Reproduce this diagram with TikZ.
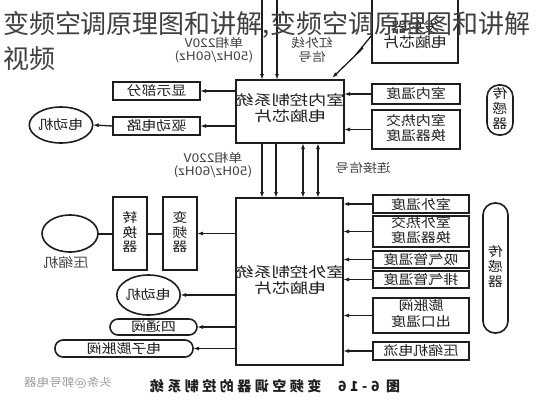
\documentclass[tikz,border=0pt]{standalone}
\usepackage{fontspec}
\usepackage{graphicx}
\newfontfamily\cjk{Noto Sans CJK SC}
\newfontfamily\cjkcap[LetterSpace=25]{Noto Sans CJK SC}
\usetikzlibrary{arrows.meta,shapes.geometric}
\definecolor{ink}{HTML}{1E1E1E}
\newcommand{\mir}[1]{\scalebox{-1.15}[1]{#1}}
\newcommand{\mtwo}[2]{\scalebox{-1.15}[1]{\begin{tabular}{@{}c@{}}#1\\#2\end{tabular}}}
\newcommand{\mchip}[2]{\scalebox{-1.3}[1]{\begin{tabular}{@{}c@{}}#1\\#2\end{tabular}}}
\newcommand{\mthree}[3]{\scalebox{-1.15}[1]{\begin{tabular}{@{}c@{}}#1\\#2\\#3\end{tabular}}}
\begin{document}
\begin{tikzpicture}[x=1pt,y=-1pt,
  every node/.style={inner sep=0pt, outer sep=0pt},
  ln/.style={line width=1.3pt, draw=ink},
  arr/.style={ln, -{Latex[length=6pt,width=4pt]}},
  darr/.style={ln, {Latex[length=6pt,width=4pt]}-{Latex[length=6pt,width=4pt]}},
  box/.style={draw=ink, line width=1.6pt, text=ink, font=\cjk\fontsize{13}{15}\selectfont},
  pill/.style={box, rounded corners=8pt},
  oval/.style={box, ellipse},
  vbox/.style={box, font=\cjk\fontsize{13}{13.5}\selectfont},
  chip/.style={text=ink, font=\cjk\fontsize{14}{13}\selectfont},
  lbl/.style={text=ink!85, font=\cjk\fontsize{12}{12.5}\selectfont},
]
\useasboundingbox (0,0) rectangle (536,400);
\fill[white] (0,0) rectangle (536,400);

% remote controller box (top, cut off)
\node[box, minimum width=86pt, minimum height=68pt] (remote) at (415,29) {};
\node[chip] (remotet) at (415,36) {\mtwo{发射器}{电脑芯片}};

% indoor chip
\node[box, minimum width=108pt, minimum height=63pt] (ind) at (290,111.5) {};
\node[chip] (indt) at (290,109.5) {\mchip{室内控制系统}{电脑芯片}};

% outdoor chip
\node[box, minimum width=107pt, minimum height=167pt] (outd) at (289.5,281.5) {};
\node[chip] (outdt) at (290,281.5) {\mchip{室外控制系统}{电脑芯片}};

% supply and IR lines at top
\coordinate (p1) at (262,0);
\coordinate (p2) at (277,0);
\draw[arr] (p1) -- (p1 |- ind.north);
\draw[arr] (p2) -- (p2 |- ind.north);
\node[lbl] (sup1) at (214,51) {\mtwo{单相220V}{(50Hz/60Hz)}};
\node[lbl] (ir) at (312,51) {\mtwo{红外线}{信号}};
\coordinate (z1) at (372,35);
\coordinate (z2) at (358,52);
\coordinate (z3) at (363,48);
\draw[arr] (z1) -- (z2) -- (z3) -- (332,78);

% indoor -> outdoor
\draw[arr] ([xshift=-28pt]ind.south) -- ([xshift=-28pt]ind.south |- outd.north);
\draw[arr] ([xshift=-14pt]ind.south) -- ([xshift=-14pt]ind.south |- outd.north);
\draw[darr] ([xshift=13pt]ind.south) -- ([xshift=13pt]ind.south |- outd.north);
\draw[darr] ([xshift=28pt]ind.south) -- ([xshift=28pt]ind.south |- outd.north);
\node[lbl] (sup2) at (213,166) {\mtwo{单相220V}{(50Hz/60Hz)}};
\node[lbl] (link) at (363,168) {\mir{连接信号}};

% indoor left
\node[box, minimum width=87pt, minimum height=18pt] (disp) at (156.5,91) {\mir{显示部分}};
\node[box, minimum width=87pt, minimum height=18pt] (drv) at (156.5,126) {\mir{驱动电路}};
\node[oval, minimum width=58pt, minimum height=36pt] (m1) at (61,125) {\mir{电动机}};
\draw[arr] (ind.west |- disp.east) -- (disp.east);
\draw[arr] (ind.west |- drv.east) -- (drv.east);
\draw[arr] (drv.west) -- (m1.east);

% indoor right sensors
\node[box, minimum width=88pt, minimum height=20pt] (ti) at (416,94) {\mir{室内温度}};
\node[box, minimum width=88pt, minimum height=39pt] (tix) at (416,129.5) {\mtwo{室内热交}{换器温度}};
\draw[arr] (ti.west) -- (ind.east |- ti.west);
\draw[arr] (tix.west) -- (ind.east |- tix.west);
\node[vbox, rounded corners=12pt, minimum width=26pt, minimum height=50pt] (s1) at (500,110) {\mthree{传}{感}{器}};

% outdoor right sensors
\node[box, minimum width=96pt, minimum height=18pt] (to) at (421,204) {\mir{室外温度}};
\node[box, minimum width=96pt, minimum height=31pt] (tox) at (421,231.5) {\mtwo{室外热交}{换器温度}};
\node[box, minimum width=96pt, minimum height=17pt] (ts) at (421,259.5) {\mir{吸气管温度}};
\node[box, minimum width=96pt, minimum height=17pt] (td) at (421,279.5) {\mir{排气管温度}};
\node[box, minimum width=96pt, minimum height=35pt] (tev) at (421,315.5) {\mtwo{膨胀阀}{出口温度}};
\node[box, minimum width=96pt, minimum height=18pt] (tc) at (421,351) {\mir{压缩机电流}};
\foreach \n in {to,tox,ts,td,tev,tc}{
  \draw[arr] (\n.west) -- (outd.east |- \n.west);
}
\node[vbox, rounded corners=12pt, minimum width=25pt, minimum height=130pt] (s2) at (495.5,268) {\mthree{传}{感}{器}};

% outdoor left
\node[vbox, minimum width=34pt, minimum height=73pt] (inv) at (180,233.5) {\mthree{变}{频}{器}};
\node[vbox, minimum width=34pt, minimum height=73pt] (conv) at (130,233.5) {\mthree{转}{换}{器}};
\node[oval, minimum width=56pt, minimum height=37pt] (comp) at (70,233.5) {};
\node[lbl, font=\cjk\fontsize{13}{14}\selectfont] (compt) at (66,263) {\mir{压缩机}};
\draw[arr] (outd.west |- inv.east) -- (inv.east);
\draw[ln, line width=2pt] (inv.west) -- (conv.east);
\draw[ln, line width=2pt] (conv.west) -- (comp.east);
\node[oval, minimum width=57pt, minimum height=40pt] (m2) at (148.5,295) {\mir{电动机}};
\node[pill, minimum width=87pt, minimum height=16pt] (fv) at (153.5,327) {\mir{四通阀}};
\node[pill, minimum width=138pt, minimum height=17pt] (ev) at (124,348.5) {\mir{电子膨胀阀}};
\draw[arr] (outd.west |- m2.east) -- (m2.east);
\draw[arr] (outd.west |- fv.east) -- (fv.east);
\draw[arr] (outd.west |- ev.east) -- (ev.east);

% caption and watermark
\node[text=ink, font=\cjkcap\bfseries\fontsize{14}{16}\selectfont] (cap) at (275,386) {\scalebox{-1}[1]{图 6-16\hspace{1.2em}变频空调器的控制系统}};
\node[text=black!40, font=\cjk\fontsize{11}{12}\selectfont] (wm) at (68,383) {\mir{头条@郭号电器}};

% overlay title
\node[anchor=base west, text=black!75, font=\cjk\fontsize{26}{30}\selectfont] (t1) at (3,33) {变频空调原理图和讲解,变频空调原理图和讲解};
\node[anchor=base west, text=black!75, font=\cjk\fontsize{26}{30}\selectfont] (t2) at (3,68) {视频};
\end{tikzpicture}
\end{document}
